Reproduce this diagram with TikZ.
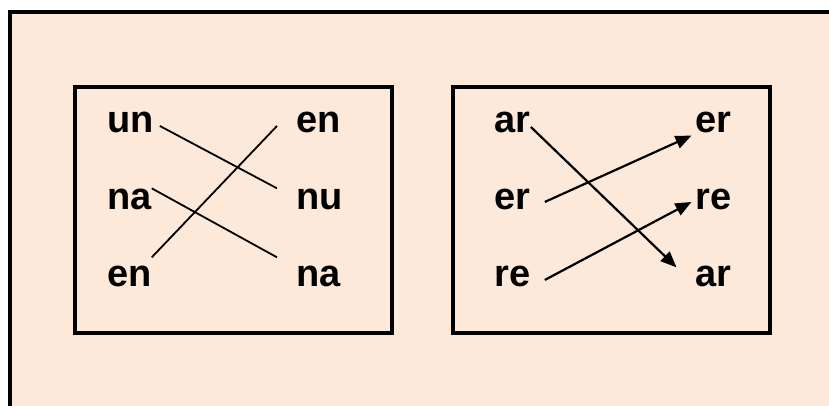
\documentclass[tikz,border=0pt]{standalone}
\usepackage{fontspec}
\newfontfamily\wordfont{Liberation Sans}
\usepackage{tikz}
\usetikzlibrary{arrows.meta}
\definecolor{peach}{RGB}{253,233,218}

\begin{document}
\begin{tikzpicture}[x=1pt,y=-1pt]
	\tikzstyle{word} = [font=\wordfont\bfseries\fontsize{38}{40}\selectfont, inner sep=0pt, anchor=base west]
	\tikzstyle{panel} = [draw, line width=4pt]
	\tikzstyle{link} = [draw, line width=1.8pt]
	\tikzstyle{arr} = [draw, line width=2.2pt, -{Triangle[length=16pt,width=13pt]}]

	\useasboundingbox (0,0) rectangle (829,406);
	\fill[white] (0,0) rectangle (829,406);
	\clip (0,0) rectangle (829,406);

	% slide frame, only its top and left edge are in view
	\fill[peach] (10,12) rectangle (829,406);
	\draw[line width=4pt] (10,410) -- (10,12) -- (835,12);

	% the two boxes
	\path[panel] (75.3,86.7) rectangle (391.5,333.3);
	\path[panel] (452.7,86.7) rectangle (770,333.3);

	% left box, first column
	\node[word] (un)  at (107,133) {un};
	\node[word] (na)  at (107,209) {na};
	\node[word] (en)  at (107,286) {en};
	% left box, second column
	\node[word] (enR) at (296,133) {en};
	\node[word] (nu)  at (296,209) {nu};
	\node[word] (naR) at (296,286) {na};

	% right box, first column
	\node[word] (ar)  at (494.5,133) {ar};
	\node[word] (er)  at (494.5,209) {er};
	\node[word] (re)  at (494.5,286) {re};
	% right box, second column
	\node[word] (erR) at (695.5,133) {er};
	\node[word] (reR) at (695.5,209) {re};
	\node[word] (arR) at (695.5,286) {ar};

	%plain lines
	\path[link] ([shift={(6,3)}]un.east) -- ([shift={(-19,0)}]nu.north west);
	\path[link] (na.north east) -- ([shift={(-19,-8)}]naR.north west);
	\path[link] ([shift={(0,-8)}]en.north east) -- ([shift={(-19,3)}]enR.west);

	%arrows
	\path[arr] ([shift={(0,4)}]ar.east) -- ([shift={(-19,2)}]arR.north west);
	\path[arr] ([shift={(14,3)}]er.east) -- ([shift={(-4,2)}]erR.south west);
	\path[arr] ([shift={(14,4)}]re.east) -- ([shift={(-4,3)}]reR.west);
\end{tikzpicture}
\end{document}
